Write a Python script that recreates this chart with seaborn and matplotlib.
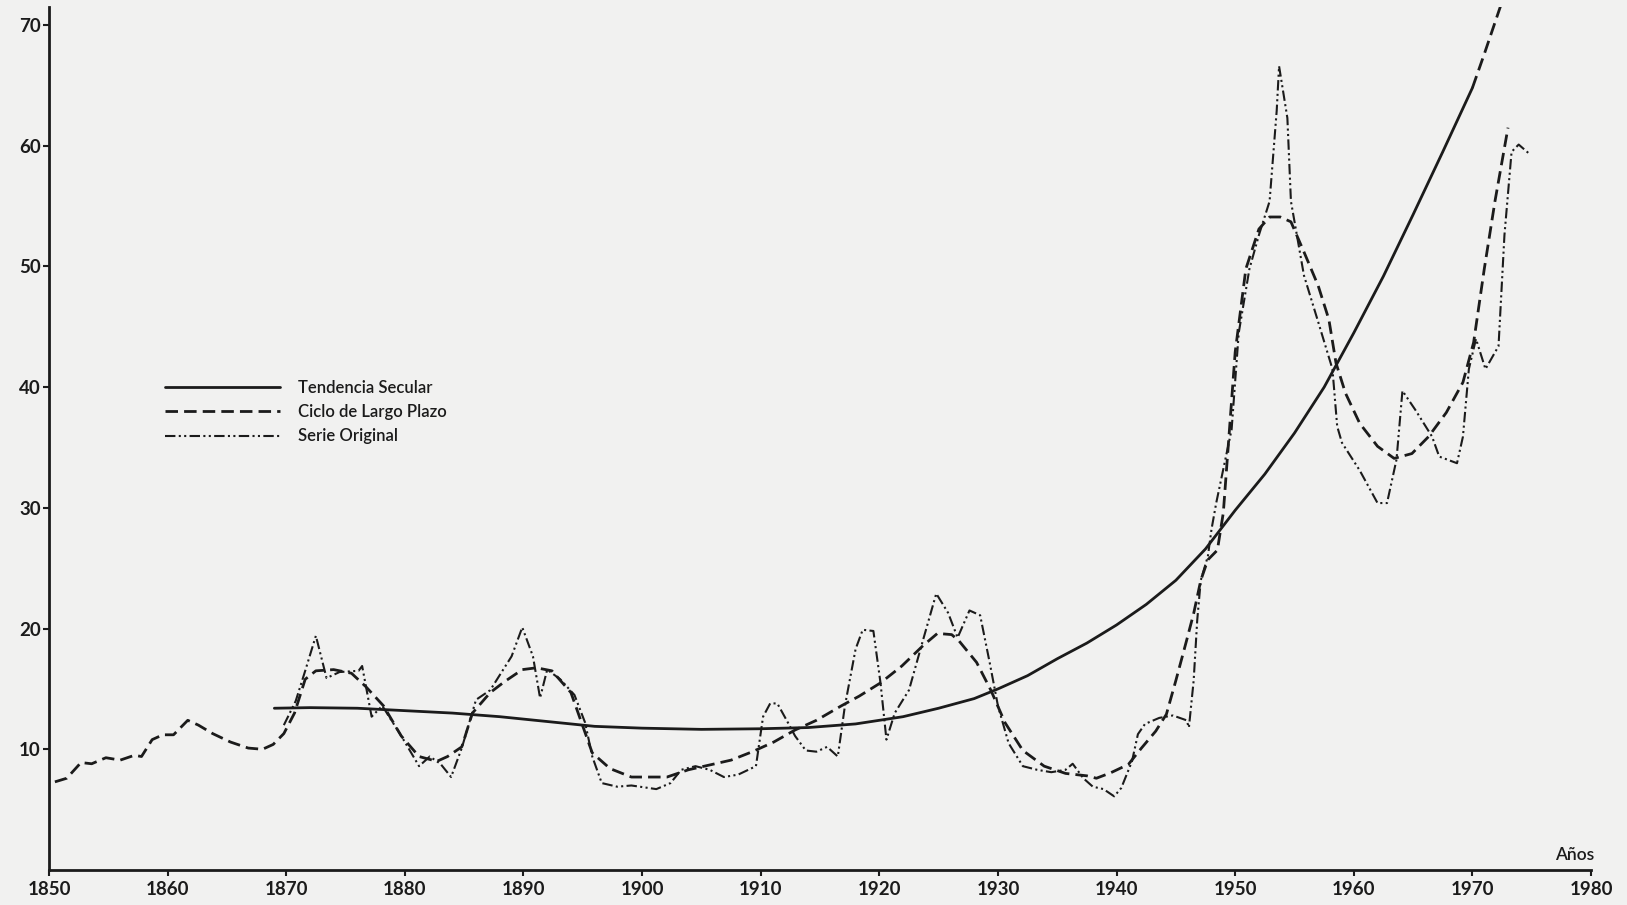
import matplotlib
matplotlib.use("Agg")
import matplotlib.pyplot as plt
import seaborn as sns

# Tendencia secular (curva suave) y su extrapolacion punteada
trend_years = [1869, 1872, 1876, 1880, 1884, 1888, 1892, 1896, 1900, 1905,
               1910, 1914, 1918, 1922, 1925, 1928, 1930, 1932.5, 1935, 1937.5,
               1940, 1942.5, 1945, 1947.5, 1950, 1952.5, 1955, 1957.5, 1960,
               1962.5, 1965, 1967.5, 1970]
trend_values = [13.4, 13.45, 13.4, 13.2, 13.0, 12.7, 12.3, 11.9, 11.75, 11.65,
                11.7, 11.8, 12.1, 12.7, 13.4, 14.2, 15.0, 16.1, 17.5, 18.8,
                20.3, 22.0, 24.0, 26.6, 29.8, 32.8, 36.2, 40.0, 44.5,
                49.2, 54.3, 59.5, 64.8]
trend_ext_years = [1970, 1971, 1972, 1973]
trend_ext_values = [64.8, 67.6, 70.5, 73.4]

# Ciclo de largo plazo
cycle_years = [1850.5, 1851.5, 1852.7, 1853.6, 1854.8, 1856.0, 1857.2, 1857.8,
               1858.7, 1859.6, 1860.5, 1861.7, 1862.6, 1863.8, 1865.3, 1866.8,
               1868.0, 1868.9, 1869.8, 1870.7, 1871.6, 1872.5, 1874.0, 1875.5,
               1876.7, 1878.2, 1879.7, 1881.2, 1882.7, 1883.6, 1884.8, 1885.7,
               1887.2, 1888.4, 1889.9, 1891.1, 1892.4, 1894.0, 1894.9, 1895.8,
               1897.3, 1899.1, 1902.1, 1903.9, 1905.7, 1907.5, 1909.3, 1911.1,
               1912.9, 1914.7, 1916.8, 1918.3, 1920.1, 1921.9, 1923.7, 1924.9,
               1926.1, 1926.7, 1928.2, 1929.4, 1930.6, 1932.1, 1933.9, 1935.7,
               1937.5, 1938.3, 1939.5, 1941.0, 1942.1, 1943.3, 1944.2, 1945.0,
               1945.9, 1946.5, 1947.1, 1947.7, 1948.5, 1949.0, 1950.0, 1950.9,
               1952.0, 1952.9, 1953.8, 1954.7, 1955.8, 1957.0, 1957.9, 1958.5,
               1959.3, 1960.5, 1962.0, 1963.4, 1964.9, 1966.3, 1967.8, 1969.2,
               1970.1, 1971.0, 1971.9, 1973.0]
cycle_values = [7.3, 7.6, 8.9, 8.8, 9.3, 9.1, 9.5, 9.4,
                10.8, 11.2, 11.2, 12.4, 12.0, 11.3, 10.6, 10.1,
                10.0, 10.4, 11.3, 13.0, 15.8, 16.5, 16.6, 16.3,
                15.2, 13.6, 11.1, 9.4, 9.0, 9.4, 10.2, 13.0,
                14.7, 15.6, 16.6, 16.75, 16.5, 14.7, 12.2, 9.7,
                8.4, 7.7, 7.7, 8.3, 8.7, 9.1, 9.8, 10.6,
                11.6, 12.4, 13.6, 14.4, 15.5, 16.9, 18.6, 19.6,
                19.5, 19.0, 17.2, 14.9, 12.2, 9.9, 8.6, 8.0,
                7.8, 7.6, 8.05, 8.75, 10.1, 11.5, 12.9, 15.7,
                19.0, 21.25, 24.0, 25.7, 26.5, 29.6, 42.9, 49.8,
                53.1, 54.1, 54.1, 53.7, 51.2, 48.4, 45.6, 42.0,
                39.5, 37.0, 35.1, 34.1, 34.5, 35.9, 37.9, 40.4,
                43.7, 49.8, 55.4, 61.5]

# Serie original
orig_years = [1869.8, 1870.8, 1871.6, 1872.5, 1873.4, 1874.5, 1876.1, 1876.4,
              1877.2, 1878.1, 1879.7, 1881.2, 1882.1, 1883.0, 1883.9, 1884.8,
              1886.0, 1887.2, 1889.0, 1889.9, 1890.8, 1891.4, 1892.0, 1893.1,
              1894.3, 1895.2, 1895.8, 1896.6, 1897.9, 1899.1, 1901.2, 1902.4,
              1903.3, 1904.5, 1905.7, 1906.9, 1908.1, 1909.6, 1910.2, 1910.8,
              1911.4, 1912.3, 1912.9, 1913.8, 1914.7, 1915.6, 1916.5, 1917.1,
              1918.0, 1918.6, 1919.5, 1920.1, 1920.6, 1921.3, 1922.5, 1923.7,
              1924.8, 1925.8, 1926.6, 1927.6, 1928.5, 1929.3, 1930.0, 1930.9,
              1932.1, 1933.3, 1934.5, 1935.7, 1936.3, 1937.2, 1938.0, 1938.9,
              1939.8, 1940.4, 1941.3, 1941.8, 1942.4, 1943.6, 1944.75, 1945.9,
              1946.1, 1946.5, 1946.8, 1947.1, 1947.7, 1948.0, 1948.4, 1949.7,
              1950.3, 1951.2, 1952.0, 1952.9, 1953.5, 1953.7, 1954.4, 1954.7,
              1955.8, 1957.0, 1958.2, 1958.6, 1959.0, 1960.5, 1962.0, 1962.8,
              1963.6, 1964.1, 1965.2, 1966.6, 1967.2, 1968.7, 1969.2, 1969.7,
              1970.3, 1971.1, 1972.2, 1972.7, 1973.3, 1973.9, 1974.9]
orig_values = [12.0, 14.0, 16.5, 19.4, 15.9, 16.4, 16.5, 16.9,
               12.7, 13.6, 11.1, 8.6, 9.4, 8.8, 7.7, 10.1,
               14.1, 14.9, 17.7, 20.1, 17.7, 14.25, 16.6, 15.8,
               14.5, 12.2, 9.4, 7.2, 6.9, 7.0, 6.7, 7.2,
               8.3, 8.6, 8.3, 7.7, 7.9, 8.6, 12.7, 13.8,
               13.8, 12.2, 11.1, 9.9, 9.8, 10.2, 9.4, 13.6,
               18.3, 19.9, 19.8, 15.5, 10.8, 13.0, 14.9, 19.1,
               22.9, 21.3, 19.25, 21.5, 21.1, 17.2, 13.6, 10.5,
               8.6, 8.3, 8.1, 8.3, 8.8, 7.6, 6.9, 6.7,
               6.1, 6.8, 9.0, 11.25, 12.1, 12.6, 12.8, 12.4,
               11.8, 15.7, 20.7, 24.0, 26.0, 28.2, 30.4, 36.5,
               44.5, 49.8, 52.6, 55.4, 62.9, 66.6, 62.3, 55.4,
               49.25, 45.4, 41.5, 36.75, 35.4, 33.1, 30.4, 30.4,
               34.0, 39.7, 38.1, 35.9, 34.25, 33.7, 35.9, 41.5,
               44.0, 41.5, 43.4, 52.6, 59.5, 60.1, 59.25]

x_ticks = list(range(1850, 1981, 10))
y_ticks = [10, 20, 30, 40, 50, 60, 70]

ink = "#1b1b1b"
paper = "#f1f1f0"

sns.set_theme(style="ticks")
plt.rcParams["font.family"] = ["Lato", "DejaVu Sans"]

fig = plt.figure(figsize=(16.27, 9.05), dpi=100, facecolor=paper)
ax = fig.add_axes([0.0301, 0.0387, 0.9478, 0.9536])
ax.set_facecolor(paper)

sns.lineplot(x=trend_years, y=trend_values, ax=ax, color=ink, lw=2.0,
             errorbar=None, label="Tendencia Secular")
sns.lineplot(x=cycle_years, y=cycle_values, ax=ax, color=ink, lw=2.0,
             linestyle=(0, (4.5, 2.2)), errorbar=None,
             label="Ciclo de Largo Plazo")
sns.lineplot(x=orig_years, y=orig_values, ax=ax, color=ink, lw=1.5,
             linestyle=(0, (5, 1.6, 1, 1.6, 1, 1.6)), errorbar=None,
             label="Serie Original")
sns.lineplot(x=trend_ext_years, y=trend_ext_values, ax=ax, color=ink, lw=2.0,
             linestyle=(0, (4.5, 2.2)), errorbar=None, legend=False)

ax.set_xlim(1850, 1980)
ax.set_ylim(0, 71.5)
ax.set_xticks(x_ticks)
ax.set_yticks(y_ticks)
ax.set_xlabel("")
ax.set_ylabel("")
for lab in ax.get_xticklabels() + ax.get_yticklabels():
    lab.set_fontweight("bold")
ax.tick_params(axis="both", direction="out", length=4, width=1.5,
               colors=ink, labelsize=13.5, pad=4)
ax.tick_params(axis="y", pad=2)

sns.despine(ax=ax)
for side in ["left", "bottom"]:
    ax.spines[side].set_color(ink)
    ax.spines[side].set_linewidth(2.0)

ax.text(1978.6, 0.6, "Años", ha="center", va="bottom", fontsize=12.5,
        fontweight="semibold", color=ink)

handles = ax.get_lines()[:3]
leg = ax.legend(handles=handles,
                labels=["Tendencia Secular", "Ciclo de Largo Plazo", "Serie Original"],
                loc="upper left", bbox_to_anchor=(0.075, 0.568), frameon=False,
                prop={"size": 12, "weight": "semibold"},
                handlelength=6.9, handletextpad=1.1,
                labelspacing=0.5, borderpad=0, borderaxespad=0)
for t in leg.get_texts():
    t.set_color(ink)

fig.savefig("out.png", dpi=100, facecolor=paper)
